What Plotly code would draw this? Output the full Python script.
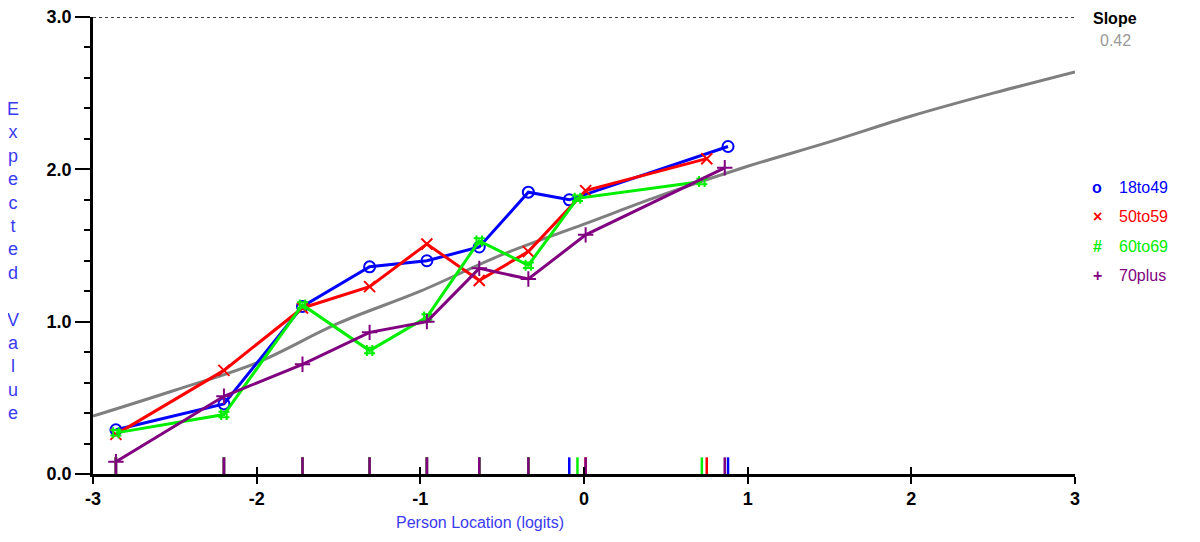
import plotly.graph_objects as go

# class-interval locations and observed means per group
x_18to49 = [-2.86, -2.20, -1.72, -1.31, -0.96, -0.64, -0.34, -0.09, 0.88]
y_18to49 = [0.29, 0.46, 1.10, 1.36, 1.40, 1.49, 1.85, 1.80, 2.15]

x_50to59 = [-2.86, -2.20, -1.72, -1.31, -0.96, -0.64, -0.34, 0.01, 0.75]
y_50to59 = [0.26, 0.68, 1.09, 1.23, 1.51, 1.27, 1.46, 1.86, 2.07]

x_60to69 = [-2.86, -2.20, -1.72, -1.31, -0.96, -0.64, -0.34, -0.04, 0.72]
y_60to69 = [0.27, 0.39, 1.11, 0.81, 1.03, 1.53, 1.37, 1.81, 1.92]

x_70plus = [-2.86, -2.20, -1.72, -1.31, -0.96, -0.64, -0.34, 0.01, 0.86]
y_70plus = [0.08, 0.51, 0.72, 0.93, 1.00, 1.35, 1.28, 1.57, 2.01]

# expected value curve
curve_x = [-3, -2.5, -2, -1.5, -1, -0.5, 0, 0.5, 1, 1.5, 2, 2.5, 3]
curve_y = [0.38, 0.55, 0.73, 0.99, 1.20, 1.44, 1.64, 1.84, 2.02, 2.18, 2.35, 2.50, 2.64]

groups = ["18to49", "50to59", "60to69", "70plus"]
legend_marks = ["o", "\u00d7", "#", "+"]
slope_value = "0.42"
y_max = 3.0
x_ticks = [-3, -2, -1, 0, 1, 2, 3]
x_ticktext = ["-3", "-2", "-1", "0", "1", "2", "3"]
y_ticks = [0, 1, 2, 3]
y_ticktext = ["0.0", "1.0", "2.0", "3.0"]

colors = ["#0000FF", "#FF0000", "#00EE00", "#800080"]
symbols = ["circle-open", "x-thin-open", "hash-open", "cross-thin-open"]
series = [(x_18to49, y_18to49), (x_50to59, y_50to59),
          (x_60to69, y_60to69), (x_70plus, y_70plus)]

# the page puts the figure 8px in from the corner; positions below are page pixels
OFF = 8
FW, FH = 1200 - OFF, 542 - OFF
L, R, T, B = 93, 1075, 17, 474
W, H = R - L, B - T


def dx(px):
    return (px - L) / W


def dy(py):
    return (B - py) / H


fig = go.Figure()

# reference line at the maximum score
fig.add_trace(go.Scatter(x=[-3, 3], y=[y_max, y_max], mode="lines", xaxis="x2",
                         line=dict(color="black", width=1.5, dash="dot"),
                         hoverinfo="skip", showlegend=False))

fig.add_trace(go.Scatter(x=curve_x, y=curve_y, mode="lines",
                         line=dict(color="#7F7F7F", width=3, shape="spline"),
                         showlegend=False))

for (xs, ys), c, s, name in zip(series, colors, symbols, groups):
    fig.add_trace(go.Scatter(
        x=xs, y=ys, mode="lines+markers", name=name,
        line=dict(color=c, width=3),
        marker=dict(symbol=s, size=11, color=c, line=dict(color=c, width=2)),
        showlegend=False))

# rug ticks along the x axis
for (xs, ys), c in zip(series, colors):
    fig.add_trace(go.Scatter(
        x=xs, y=[0.045] * len(xs), mode="markers",
        marker=dict(symbol="line-ns-open", size=14, color=c,
                    line=dict(color=c, width=2.5)),
        hoverinfo="skip", showlegend=False))

# legend built from text
for i, (g, m, c) in enumerate(zip(groups, legend_marks, colors)):
    yp = 187 + i * 29.5
    fig.add_annotation(x=dx(1097), y=dy(yp), xref="x domain", yref="y domain", text="<b>" + m + "</b>",
                       showarrow=False, font=dict(size=16, color=c, family="Arial"),
                       xanchor="center", yanchor="middle")
    fig.add_annotation(x=dx(1117), y=dy(yp), xref="x domain", yref="y domain", text=g,
                       showarrow=False, font=dict(size=16, color=c, family="Arial"),
                       xanchor="left", yanchor="middle")

fig.add_annotation(x=dx(1115), y=dy(OFF), xref="x domain", yref="y domain",
                   text="<b>Slope</b>", showarrow=False,
                   font=dict(size=16, color="black", family="Arial"), xanchor="center", yanchor="top")
fig.add_annotation(x=dx(1115), y=dy(40), xref="x domain", yref="y domain",
                   text=slope_value, showarrow=False,
                   font=dict(size=16, color="#999999", family="Arial"), xanchor="center", yanchor="middle")

fig.add_annotation(x=dx(480), y=dy(522), xref="x domain", yref="y domain",
                   text="Person Location (logits)", showarrow=False,
                   font=dict(size=16, color="#3A3AF0", family="Arial"), xanchor="center", yanchor="middle")
fig.add_annotation(x=dx(13), y=dy(261), xref="x domain", yref="y domain",
                   text="<br>".join(list("Expected") + [""] + list("Value")), showarrow=False,
                   font=dict(size=18, color="#3A3AF0", family="Arial"), xanchor="center", yanchor="middle",
                   align="center")

fig.update_layout(
    width=FW, height=FH,
    margin=dict(l=L - OFF, r=FW - (R - OFF), t=T - OFF, b=FH - (B - OFF), autoexpand=False),
    paper_bgcolor="white", plot_bgcolor="white",
    font=dict(family="Arial", color="black"),
    xaxis=dict(range=[-3, 3], tickvals=x_ticks, ticktext=x_ticktext, showgrid=False, zeroline=False,
               showline=True, linecolor="black", linewidth=2.5, automargin=False,
               ticks="outside", ticklen=7, tickwidth=2, tickcolor="black", ticklabeloverflow="allow",
               tickfont=dict(size=18, weight="bold", color="black")),
    xaxis2=dict(range=[-3, 3], overlaying="x", anchor="y", side="bottom", showgrid=False, zeroline=False,
                tickvals=x_ticks[1:-1], ticks="inside", ticklen=7, tickwidth=2, tickcolor="black",
                showticklabels=False, showline=False, automargin=False),
    yaxis=dict(range=[0, 3], tickvals=y_ticks, ticktext=y_ticktext, showgrid=False, zeroline=False,
               showline=True, linecolor="black", linewidth=2.5, automargin=False,
               ticks="outside", ticklen=15, tickwidth=2, tickcolor="black", ticklabeloverflow="allow",
               tickfont=dict(size=18, weight="bold", color="black"),
               minor=dict(dtick=0.2, ticks="outside", ticklen=6, tickwidth=1.5, tickcolor="black")),
)

fig.write_html("out.html")
